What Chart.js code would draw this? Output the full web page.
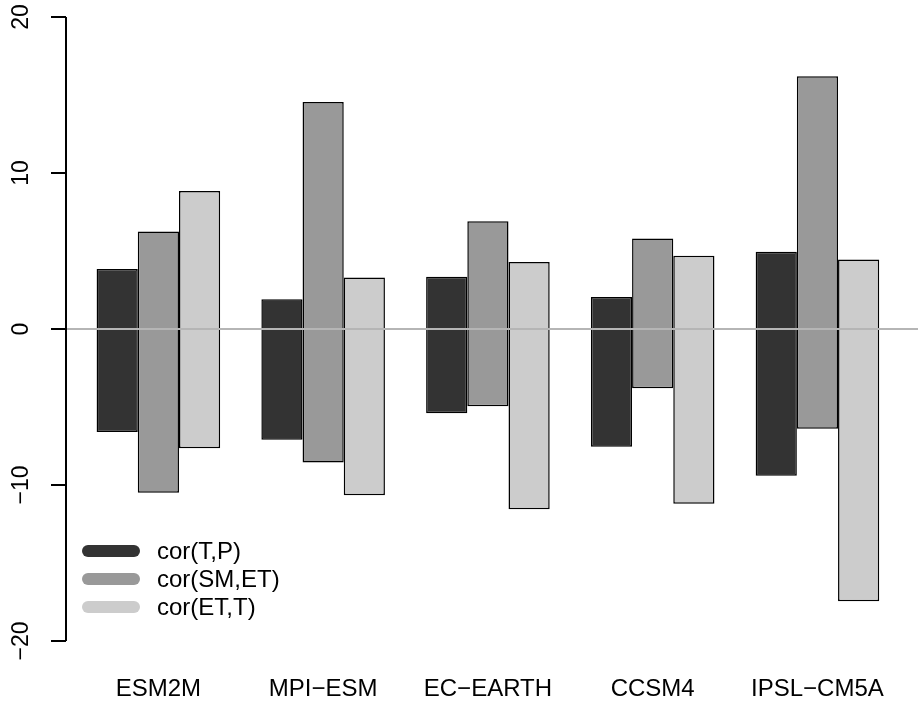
<!DOCTYPE html>
<html>
<head>
<meta charset="utf-8">
<script src="https://cdn.jsdelivr.net/npm/chart.js@4.4.0/dist/chart.umd.min.js"></script>
<style>
  html, body { margin: 0; padding: 0; background: #fff; }
  #wrap { width: 918px; height: 704px; }
</style>
</head>
<body>
<div id="wrap"><canvas id="chart" width="918" height="704"></canvas></div>
<script>
const models = ['ESM2M', 'MPI-ESM', 'EC-EARTH', 'CCSM4', 'IPSL-CM5A'];
const seriesNames = ['cor(T,P)', 'cor(SM,ET)', 'cor(ET,T)'];
const seriesColors = ['#333333', '#999999', '#cccccc'];

// lower and upper end of each bar
const corTP_low  = [-6.6, -7.1, -5.4, -7.55, -9.4];
const corTP_high = [3.85, 1.9, 3.35, 2.05, 4.95];
const corSMET_low  = [-10.5, -8.55, -4.95, -3.8, -6.4];
const corSMET_high = [6.25, 14.55, 6.9, 5.8, 16.2];
const corETT_low  = [-7.65, -10.65, -11.55, -11.2, -17.45];
const corETT_high = [8.85, 3.3, 4.3, 4.7, 4.45];

const yTicks = [-20, -10, 0, 10, 20];

const FONT = '"Liberation Sans", Arial, Helvetica, sans-serif';

function pairUp(lo, hi) {
    return lo.map((v, i) => [v, hi[i]]);
}

const lows = [corTP_low, corSMET_low, corETT_low];
const highs = [corTP_high, corSMET_high, corETT_high];

const datasets = seriesNames.map((name, k) => ({
    label: name,
    data: pairUp(lows[k], highs[k]),
    backgroundColor: seriesColors[k],
    borderColor: '#000000',
    borderWidth: 1.5,
    borderSkipped: false,
    categoryPercentage: 0.75,
    barPercentage: 1.0
}));

// R style axis, zero line and legend
const baseAxis = {
    id: 'baseAxis',
    afterDatasetsDraw(chart) {
        const ctx = chart.ctx;
        const area = chart.chartArea;
        const y = chart.scales.y;
        const ax = area.left - 10;

        ctx.save();
        // abline(h = 0)
        ctx.strokeStyle = '#b5b5b5';
        ctx.lineWidth = 2;
        ctx.beginPath();
        ctx.moveTo(ax, y.getPixelForValue(0));
        ctx.lineTo(chart.width, y.getPixelForValue(0));
        ctx.stroke();

        // y axis
        ctx.strokeStyle = '#000';
        ctx.lineWidth = 2;
        ctx.beginPath();
        ctx.moveTo(ax, y.getPixelForValue(yTicks[0]));
        ctx.lineTo(ax, y.getPixelForValue(yTicks[yTicks.length - 1]));
        yTicks.forEach(t => {
            const py = y.getPixelForValue(t);
            ctx.moveTo(ax - 15, py);
            ctx.lineTo(ax, py);
        });
        ctx.stroke();

        ctx.fillStyle = '#000';
        ctx.font = '23px ' + FONT;
        ctx.textAlign = 'center';
        ctx.textBaseline = 'middle';
        yTicks.forEach(t => {
            const py = y.getPixelForValue(t);
            ctx.save();
            ctx.translate(ax - 44, py);
            ctx.rotate(-Math.PI / 2);
            ctx.fillText(String(t).replace('-', '\u2212'), 0, 0);
            ctx.restore();
        });

        // legend
        ctx.lineCap = 'round';
        ctx.lineWidth = 12;
        ctx.font = '24px ' + FONT;
        ctx.textAlign = 'left';
        seriesNames.forEach((name, k) => {
            const ly = area.bottom - 90 + k * 28;
            ctx.strokeStyle = seriesColors[k];
            ctx.beginPath();
            ctx.moveTo(area.left + 12, ly);
            ctx.lineTo(area.left + 58, ly);
            ctx.stroke();
            ctx.fillStyle = '#000';
            ctx.fillText(name, area.left + 81, ly + 1);
        });
        ctx.restore();
    }
};

const ctx = document.getElementById('chart').getContext('2d');
new Chart(ctx, {
    type: 'bar',
    data: { labels: models.map(m => m.replace('-', '\u2212')), datasets: datasets },
    options: {
        responsive: false,
        animation: false,
        layout: { padding: { left: 76, top: 17, right: 2, bottom: 0 } },
        scales: {
            x: {
                offset: true,
                grid: { display: false, drawTicks: false },
                border: { display: false },
                ticks: {
                    color: '#000',
                    font: { family: FONT, size: 24 },
                    padding: 34,
                    maxRotation: 0
                },
                afterFit: s => { s.height = 63; }
            },
            y: {
                display: false,
                min: -20,
                max: 20
            }
        },
        plugins: {
            legend: { display: false },
            tooltip: { enabled: false }
        }
    },
    plugins: [baseAxis]
});
</script>
</body>
</html>
